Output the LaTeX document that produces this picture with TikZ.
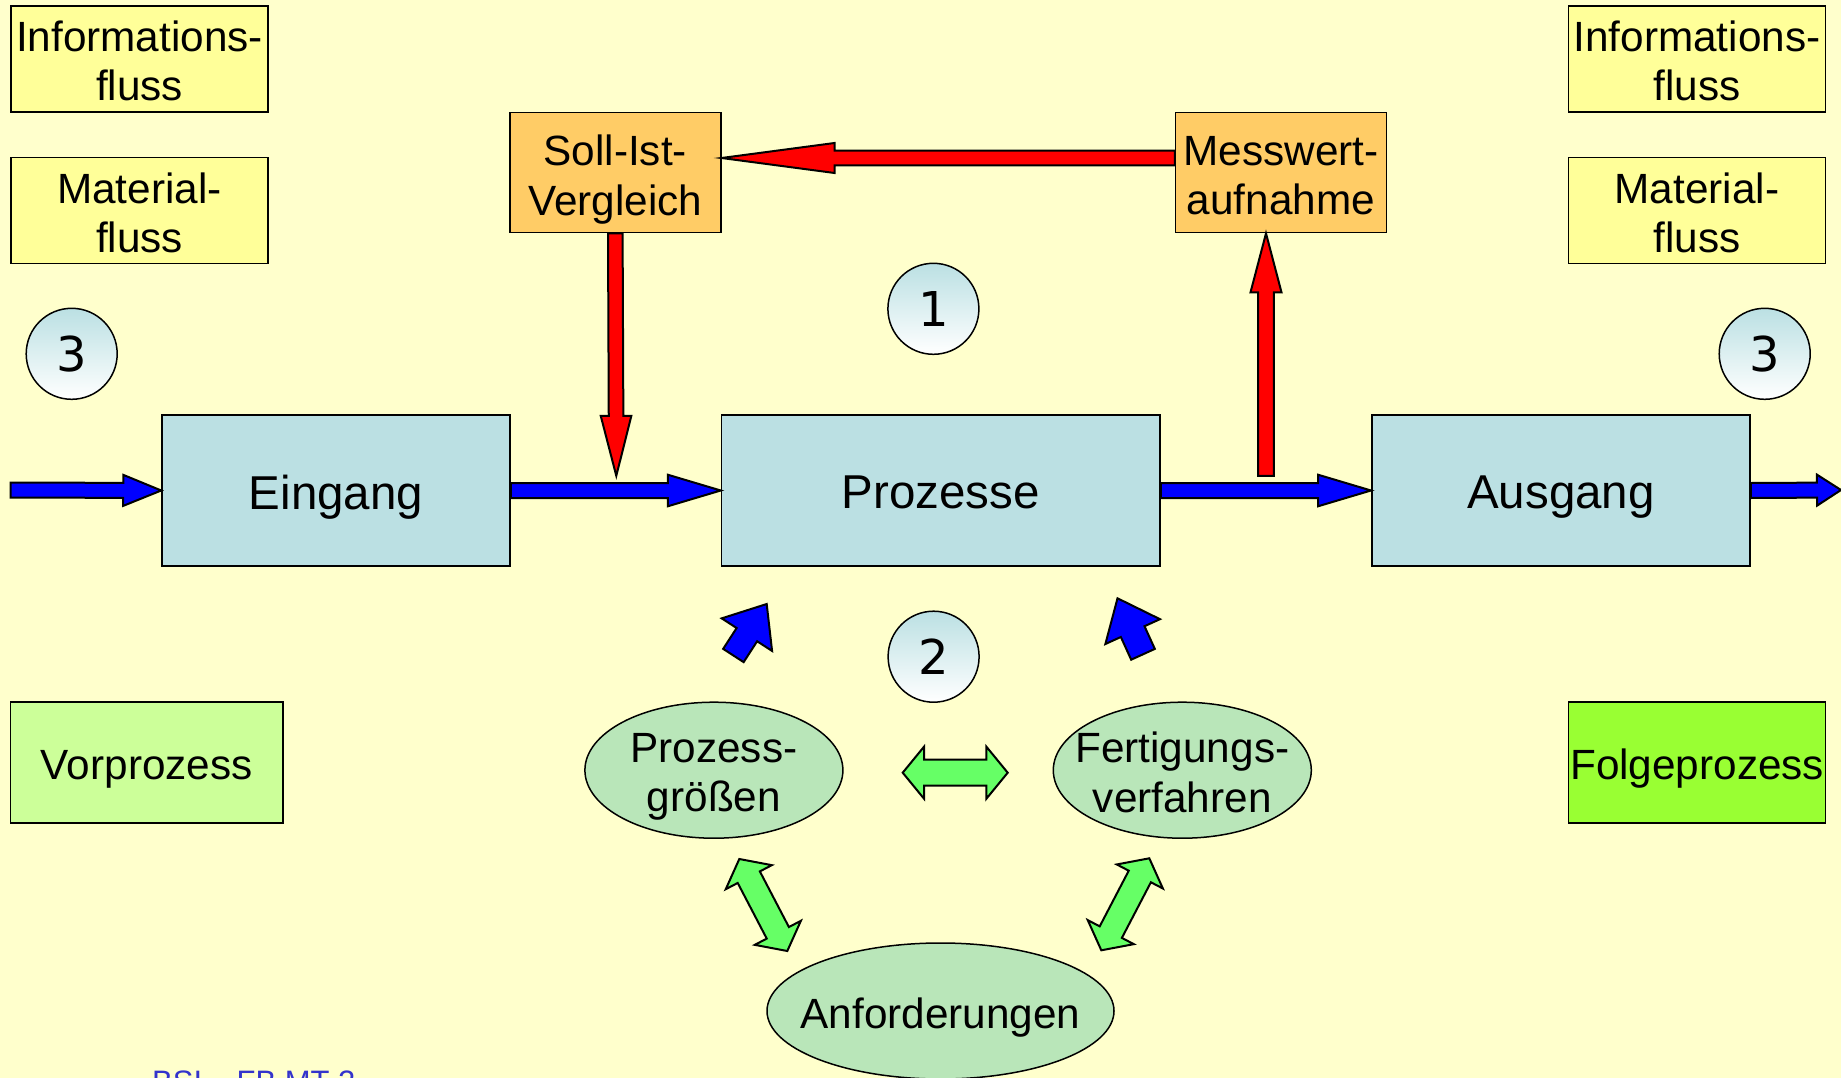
\documentclass[tikz,border=0pt]{standalone}
\usepackage{fontspec}
\setmainfont{Liberation Sans}
\newfontfamily\numfont{DejaVu Sans}
\usetikzlibrary{calc,shapes.geometric}
\definecolor{bgc}{RGB}{255,255,204}
\definecolor{infoc}{RGB}{255,255,153}
\definecolor{orangec}{RGB}{255,204,102}
\definecolor{procc}{RGB}{187,224,227}
\definecolor{ellc}{RGB}{185,230,185}
\definecolor{garrc}{RGB}{102,255,102}
\definecolor{vorc}{RGB}{204,255,153}
\definecolor{folgc}{RGB}{153,255,51}
\definecolor{footc}{RGB}{51,51,204}
\newcommand{\blockarr}[6]{%
  \coordinate (ba-s) at #2; \coordinate (ba-e) at #3;
  \coordinate (ba-h) at ($(ba-e)!#6!(ba-s)$);
  \draw[#1] ($(ba-s)!#4!90:(ba-e)$) -- ($(ba-h)!#4!90:(ba-e)$) -- ($(ba-h)!#5!90:(ba-e)$)
    -- (ba-e) -- ($(ba-h)!#5!-90:(ba-e)$) -- ($(ba-h)!#4!-90:(ba-e)$) -- ($(ba-s)!#4!-90:(ba-e)$) -- cycle;}
\newcommand{\dblarr}[6]{%
  \coordinate (da-a) at #2; \coordinate (da-b) at #3;
  \coordinate (da-ha) at ($(da-a)!#6!(da-b)$);
  \coordinate (da-hb) at ($(da-b)!#6!(da-a)$);
  \draw[#1] (da-a) -- ($(da-ha)!#5!90:(da-b)$) -- ($(da-ha)!#4!90:(da-b)$) -- ($(da-hb)!#4!-90:(da-a)$)
    -- ($(da-hb)!#5!-90:(da-a)$) -- (da-b) -- ($(da-hb)!#5!90:(da-a)$) -- ($(da-hb)!#4!90:(da-a)$)
    -- ($(da-ha)!#4!-90:(da-b)$) -- ($(da-ha)!#5!-90:(da-b)$) -- cycle;}
\tikzset{
  lbl/.style={font=\fontsize{42.3}{49.3}\selectfont, align=center, text=black, inner sep=0pt, text depth=0pt},
  biglbl/.style={font=\fontsize{47.5}{52}\selectfont, align=center, text=black, inner sep=0pt, text depth=0pt},
  box/.style={draw, line width=1.5pt, rectangle, inner sep=0pt},
  infobox/.style={box, fill=infoc, minimum width=257pt, minimum height=106pt},
  orbox/.style={box, fill=orangec, minimum width=211pt, minimum height=120pt},
  procbox/.style={box, fill=procc, minimum height=151pt},
  ell/.style={ellipse, draw, line width=1.5pt, fill=ellc, inner sep=0pt},
  numc/.style={circle, draw, line width=1.5pt, top color=procc, bottom color=white, minimum size=91pt, inner sep=0pt, font=\numfont\fontsize{48}{48}\selectfont},
  redarr/.style={fill=red, draw=black, line width=2pt, line join=miter},
  bluearr/.style={fill=blue, draw=black, line width=2pt, line join=miter},
  greenarr/.style={fill=garrc, draw=black, line width=2pt, line join=miter},
}
\begin{document}
\begin{tikzpicture}[x=1pt, y=-1pt]
\useasboundingbox (0,0) rectangle (1841,1078);
\fill[bgc] (0,0) rectangle (1841,1078);
\clip (0,0) rectangle (1841,1078);
% info boxes
\node[infobox] (infoL) at (139.5,59) {};
\node[infobox] (matL) at (139.5,210.5) {};
\node[infobox] (infoR) at (1697,59) {};
\node[infobox] (matR) at (1697,210.5) {};
\node[lbl] (infoL-t) at ($(infoL)+(0,2)$) {Informations-\\fluss};
\node[lbl] (matL-t) at ($(matL)+(0,2)$) {Material-\\fluss};
\node[lbl] (infoR-t) at ($(infoR)+(0,2)$) {Informations-\\fluss};
\node[lbl] (matR-t) at ($(matR)+(0,2)$) {Material-\\fluss};
% control boxes
\node[orbox] (soll) at (615.3,172.6) {};
\node[orbox] (mess) at (1281,172.6) {};
\node[lbl] (soll-t) at ($(soll)+(0,2.5)$) {Soll-Ist-\\Vergleich};
\node[lbl] (mess-t) at ($(mess)+(0,2.5)$) {Messwert-\\aufnahme};
% process boxes
\node[procbox, minimum width=348pt] (ein) at (336,490.5) {};
\node[procbox, minimum width=438.5pt] (proz) at (940.75,490.5) {};
\node[procbox, minimum width=378.3pt] (aus) at (1560.9,490.5) {};
\node[biglbl] (ein-t) at ($(ein)+(0,2)$) {Eingang};
\node[biglbl] (proz-t) at ($(proz)+(0,2)$) {Prozesse};
\node[biglbl] (aus-t) at ($(aus)+(0,2)$) {Ausgang};
% pre/post process
\node[box, fill=vorc, minimum width=272.4pt, minimum height=121pt] (vor) at (146.8,762.5) {};
\node[box, fill=folgc, minimum width=257.2pt, minimum height=121pt] (folg) at (1697.1,762.5) {};
\node[lbl] (vor-t) at ($(vor)+(0,2)$) {Vorprozess};
\node[lbl] (folg-t) at ($(folg)+(0,2)$) {Folgeprozess};
% circles
\node[numc] (c1) at (933.4,308.8) {1};
\node[numc] (c2) at (933.6,656.7) {2};
\node[numc] (c3L) at (71.7,353.8) {3};
\node[numc] (c3R) at (1764.7,353.8) {3};
% ellipses
\node[ell, minimum width=258pt, minimum height=136pt] (pg) at (713.9,770.2) {};
\node[ell, minimum width=258pt, minimum height=136pt] (fv) at (1182.3,770.2) {};
\node[ell, minimum width=347pt, minimum height=136pt] (anf) at (940.5,1011) {};
\node[lbl] (pg-t) at ($(pg)+(0,2)$) {Prozess-\\größen};
\node[lbl] (fv-t) at ($(fv)+(0,2)$) {Fertigungs-\\verfahren};
\node[lbl] (anf-t) at ($(anf)+(0,2)$) {Anforderungen};
% red arrows
\blockarr{redarr}{($(mess.west)+(0,-14.6)$)}{($(soll.east)+(0,-14.6)$)}{7.3pt}{15pt}{113pt}
\coordinate (rtip) at ($(soll.south)+(1,242.5)$);
\blockarr{redarr}{(soll.south)}{(rtip)}{7.3pt}{15.3pt}{60pt}
\coordinate (rbase) at ($(mess.south)+(-15,242.5)$);
\blockarr{redarr}{(rbase)}{($(mess.south)+(-15,0)$)}{7.8pt}{15.5pt}{59pt}
% blue main flow
\coordinate (inL) at (10.7,490);
\coordinate (outR) at (1841,490);
\blockarr{bluearr}{(inL)}{(ein.west)}{7.5pt}{15.5pt}{38pt}
\blockarr{bluearr}{(ein.east)}{(proz.west)}{7.5pt}{15.8pt}{53pt}
\blockarr{bluearr}{(proz.east)}{(aus.west)}{7.5pt}{15.8pt}{53pt}
\blockarr{bluearr}{(aus.east)}{(outR)}{7.5pt}{15.5pt}{24pt}
% small blue arrows
\coordinate (bl1s) at (733.4,655.5); \coordinate (bl1e) at (766.7,604);
\coordinate (bl2s) at (1143,654.3); \coordinate (bl2e) at (1117.5,598.3);
\blockarr{bluearr}{(bl1s)}{(bl1e)}{12.2pt}{30pt}{36.5pt}
\blockarr{bluearr}{(bl2s)}{(bl2e)}{13pt}{30pt}{36.6pt}
% green double arrows
\coordinate (g1a) at (902.7,772.7); \coordinate (g1b) at (1007.7,772.7);
\coordinate (g2a) at (739.3,859); \coordinate (g2b) at (787.3,951);
\coordinate (g3a) at (1149.3,858.3); \coordinate (g3b) at (1101.3,950.3);
\dblarr{greenarr}{(g1a)}{(g1b)}{13pt}{26pt}{21.3pt}
\dblarr{greenarr}{(g2a)}{(g2b)}{12.5pt}{26pt}{20.5pt}
\dblarr{greenarr}{(g3a)}{(g3b)}{12.5pt}{26pt}{20.5pt}
% footer
\node[anchor=base west, inner sep=0pt, text=footc, font=\fontsize{31}{31}\selectfont] (foot) at (152,1092) {BSI – FB MT 2};
\end{tikzpicture}
\end{document}
